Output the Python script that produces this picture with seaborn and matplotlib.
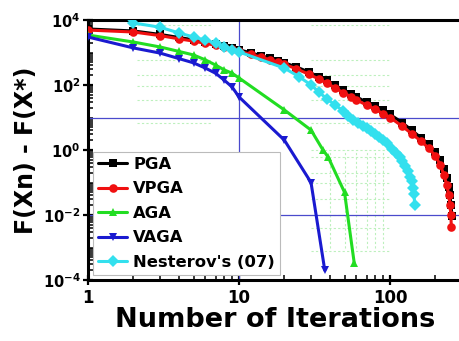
import numpy as np
import pandas as pd
import seaborn as sns
import matplotlib
matplotlib.use("Agg")
import matplotlib.pyplot as plt
from matplotlib.lines import Line2D
from matplotlib.ticker import FixedLocator, FuncFormatter, LogLocator, NullFormatter

sns.set_theme(style="white")
plt.rcParams["font.family"] = ["DejaVu Sans"]
plt.rcParams["font.weight"] = "bold"
plt.rcParams["mathtext.fontset"] = "dejavusans"
plt.rcParams["mathtext.default"] = "bf"
for key in ["text.color", "axes.labelcolor", "xtick.color", "ytick.color"]:
    plt.rcParams[key] = "black"

# ---- convergence data: F(x_n) - F(x*) per iteration ----
pga_iter = [1, 2, 3, 4, 5, 6, 7, 8, 9, 10, 12, 14, 16, 18, 20, 24, 29, 34, 38, 43,
            49, 55, 60, 70, 80, 90, 100, 120, 140, 160, 180, 200, 215, 228, 238,
            245, 250, 254, 257]
pga_gap = [5300, 4600, 3600, 2900, 2450, 2100, 1820, 1600, 1390, 1220, 970, 800,
           670, 560, 480, 360, 250, 178, 138, 100, 71, 54, 43, 29.5, 22, 16.5,
           12.5, 7.0, 4.0, 2.4, 1.5, 0.88, 0.5, 0.26, 0.14, 0.075, 0.04, 0.02,
           0.0095]

vpga_iter = [1, 2, 3, 4, 5, 6, 7, 8, 9, 10, 12, 14, 16, 18, 20, 24, 29, 34, 38, 43,
             49, 55, 60, 70, 80, 90, 100, 120, 140, 160, 180, 200, 215, 228, 238,
             245, 250, 253, 255]
vpga_gap = [4900, 4270, 3310, 2630, 2240, 1910, 1660, 1450, 1260, 1100, 870, 720,
            600, 500, 430, 316, 214, 151, 115, 83, 58, 44, 35, 24, 17.8, 13.2,
            10, 5.5, 3.1, 1.9, 1.15, 0.66, 0.35, 0.17, 0.083, 0.042, 0.020, 0.010,
            0.0043]

aga_iter = [1, 2, 3, 4, 5, 6, 7, 8, 9, 10, 20, 30, 36, 39, 50, 58]
aga_gap = [3450, 2100, 1480, 1080, 840, 590, 410, 290, 230, 165, 17, 4.1, 1.0,
           0.6, 0.05, 3.3e-4]

vaga_iter = [1, 2, 3, 4, 5, 6, 7, 8, 9, 10, 20, 30, 37]
vaga_gap = [3000, 1380, 960, 650, 480, 330, 230, 140, 87, 43, 2.0, 0.1, 2e-4]

nest_iter = [1, 2, 3, 4, 5, 6, 7, 8, 9, 10, 20, 25, 30, 34, 38, 43, 49, 53, 57, 61,
             66, 70, 75, 80, 85, 90, 96, 103, 110, 116, 121, 126, 131, 136, 139,
             142, 144, 146]
nest_gap = [100000, 8100, 6000, 4000, 3000, 2400, 1960, 1480, 1200, 1040, 330, 180,
            100, 60, 38, 25, 16, 11.5, 8.3, 6.9, 5.6, 4.6, 3.8, 3.1, 2.6, 2.0, 1.6,
            1.1, 0.8, 0.6, 0.45, 0.32, 0.22, 0.15, 0.11, 0.07, 0.045, 0.02]

methods = ["PGA", "VPGA", "AGA", "VAGA", "Nesterov's (07)"]
colors = {"PGA": "#000000", "VPGA": "#f01010", "AGA": "#22dd22",
          "VAGA": "#1a1ad0", "Nesterov's (07)": "#33e0ee"}
markers = {"PGA": "s", "VPGA": "o", "AGA": "^", "VAGA": "v", "Nesterov's (07)": "D"}

series = {"PGA": (pga_iter, pga_gap), "VPGA": (vpga_iter, vpga_gap),
          "AGA": (aga_iter, aga_gap), "VAGA": (vaga_iter, vaga_gap),
          "Nesterov's (07)": (nest_iter, nest_gap)}
df = pd.concat(
    [pd.DataFrame({"iteration": it, "gap": g, "method": m})
     for m, (it, g) in series.items()],
    ignore_index=True,
)

# faint dotted guide patches in the background
guide_rows_upper = [7000, 600, 200, 90, 35, 7]
guide_rows_lower = [1.0, 0.6, 0.2, 0.1, 0.03, 0.01, 0.004, 0.0008]
guide_cols_lower = [40, 50, 60, 70, 80, 90]

fig = plt.figure(figsize=(4.59, 3.41), dpi=100)
ax = fig.add_axes([88 / 459, 61 / 341, 374 / 459, 260 / 341])
ax.set_xscale("log")
ax.set_yscale("log")
ax.set_xlim(1, 300)
ax.set_ylim(1e-4, 1e4)

guide_kw = dict(colors="#bdf0bd", linestyles=(0, (2, 2)), linewidth=0.8, zorder=0.5)
ax.hlines(guide_rows_upper, 2.1, 6.5, **guide_kw)
ax.hlines(guide_rows_upper, 30, 100, **guide_kw)
ax.hlines(guide_rows_lower, 30, 100, **guide_kw)
ax.vlines(guide_cols_lower, 1e-3, 1.0, **guide_kw)

# reference lines
ref_kw = dict(color="#4a4acc", linewidth=0.9, zorder=1)
ax.axhline(10, **ref_kw)
ax.axhline(1e-2, **ref_kw)
ax.axvline(10, **ref_kw)

sns.lineplot(data=df, x="iteration", y="gap", hue="method", style="method",
             hue_order=methods, style_order=methods, palette=colors,
             markers=markers, dashes=False, estimator=None, sort=False,
             linewidth=2.2, markersize=6.2, markeredgewidth=0,
             legend=False, ax=ax, zorder=3)

handles = [Line2D([], [], color=colors[m], marker=markers[m], lw=2.2, ms=6.2, mew=0)
           for m in methods]
leg = ax.legend(handles, methods, loc="lower left", bbox_to_anchor=(0.013, 0.02),
                borderaxespad=0, frameon=True, fancybox=False, framealpha=1,
                edgecolor="#bbbbbb", prop={"weight": "bold", "size": 11.8},
                handlelength=1.8, handletextpad=0.35, labelspacing=0.58,
                borderpad=0.3)
leg.get_frame().set_linewidth(0.8)
leg.set_zorder(10)

# axes ticks
ax.yaxis.set_major_locator(FixedLocator([1e-4, 1e-2, 1, 1e2, 1e4]))
ax.yaxis.set_major_formatter(
    FuncFormatter(lambda v, _: r"$\mathbf{10^{%d}}$" % round(np.log10(v))))
ax.yaxis.set_minor_locator(LogLocator(base=10, subs=np.arange(1, 10), numticks=100))
ax.yaxis.set_minor_formatter(NullFormatter())
ax.xaxis.set_major_locator(FixedLocator([1, 10, 100]))
ax.xaxis.set_major_formatter(FuncFormatter(lambda v, _: "%d" % round(v)))
ax.xaxis.set_minor_locator(LogLocator(base=10, subs=np.arange(2, 10), numticks=100))
ax.xaxis.set_minor_formatter(NullFormatter())
ax.tick_params(which="major", direction="inout", length=7, width=1.6,
               labelsize=12, left=True, bottom=True, pad=3)
ax.tick_params(axis="y", which="major", labelsize=10.5, pad=2)
ax.tick_params(which="minor", direction="in", length=3.5, width=1.1,
               left=True, bottom=True)
for lab in ax.get_xticklabels() + ax.get_yticklabels():
    lab.set_fontweight("bold")

for side in ["left", "bottom", "top"]:
    ax.spines[side].set_linewidth(2.2)
    ax.spines[side].set_color("black")
ax.spines["right"].set_visible(False)

ax.set_xlabel("Number of Iterations", fontsize=19.5, fontweight="bold")
ax.set_ylabel("F(Xn) - F(X*)", fontsize=17, fontweight="bold")
ax.xaxis.set_label_coords(0.5, -0.105)
ax.yaxis.set_label_coords(-0.135, 0.5)

fig.savefig("out.png", dpi=100)
